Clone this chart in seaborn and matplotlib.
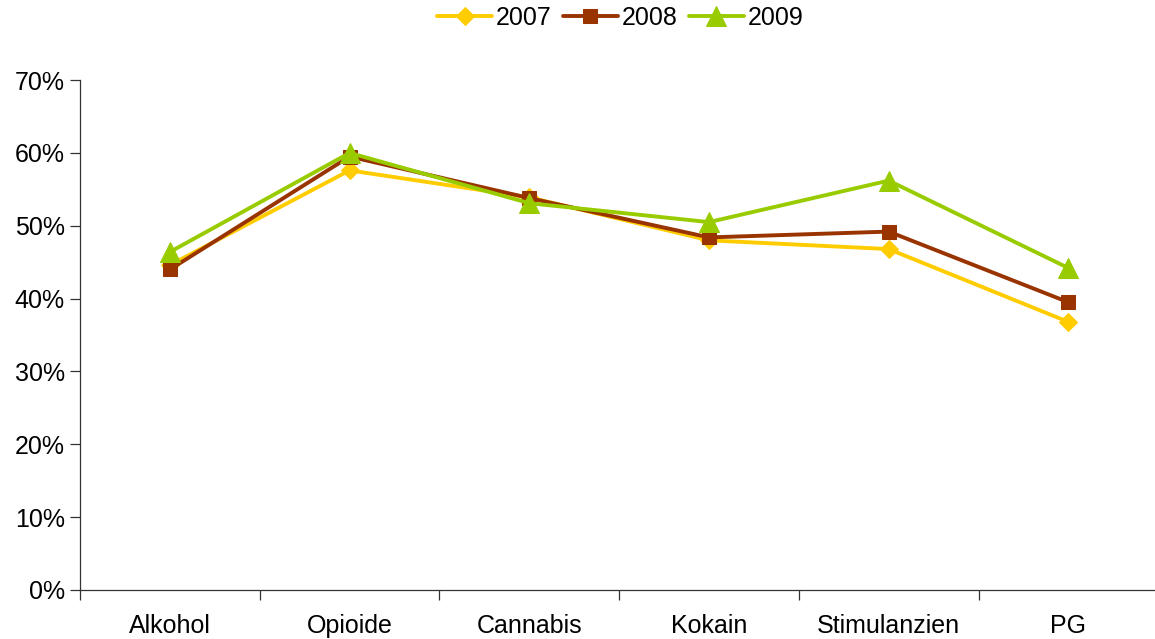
import matplotlib
matplotlib.use("Agg")
import matplotlib.pyplot as plt
from matplotlib.ticker import FixedLocator, PercentFormatter
import seaborn as sns
import pandas as pd

categories = ["Alkohol", "Opioide", "Cannabis", "Kokain", "Stimulanzien", "PG"]
years = ["2007", "2008", "2009"]
values_2007 = [44.6, 57.6, 53.9, 48.0, 46.8, 36.8]
values_2008 = [44.0, 59.5, 53.8, 48.4, 49.2, 39.5]
values_2009 = [46.4, 60.0, 53.1, 50.5, 56.2, 44.2]
y_ticks = [0, 10, 20, 30, 40, 50, 60, 70]

colors = {"2007": "#FFCC00", "2008": "#993300", "2009": "#99CC00"}
markers = {"2007": "D", "2008": "s", "2009": "^"}
sizes = {"2007": 9.5, "2008": 10.5, "2009": 14}

sns.set_style("white")
plt.rcParams["font.family"] = ["Liberation Sans", "DejaVu Sans"]
plt.rcParams["text.color"] = "black"

rows = []
for year, vals in zip(years, [values_2007, values_2008, values_2009]):
    for i, (cat, v) in enumerate(zip(categories, vals)):
        rows.append({"pos": i, "category": cat, "year": year, "value": v})
df = pd.DataFrame(rows)

fig = plt.figure(figsize=(11.55, 6.39), dpi=100)
ax = fig.add_axes([0.0693, 0.0767, 0.9335, 0.798])

for year in years:
    sub = df[df["year"] == year]
    sns.lineplot(data=sub, x="pos", y="value", ax=ax, color=colors[year],
                 marker=markers[year], markersize=sizes[year],
                 markeredgecolor=colors[year], linewidth=2.8,
                 label=year, legend=False)

ax.set_xlim(-0.5, len(categories) - 0.5)
ax.set_ylim(0, 70)
ax.yaxis.set_major_locator(FixedLocator(y_ticks))
ax.yaxis.set_major_formatter(PercentFormatter(decimals=0))
ax.set_xticks(range(len(categories)))
ax.set_xticklabels(categories)
ax.xaxis.set_minor_locator(FixedLocator([i - 0.5 for i in range(len(categories))]))
ax.tick_params(axis="x", which="major", length=0, pad=17, labelsize=18,
               labelcolor="black")
ax.tick_params(axis="x", which="minor", length=7, width=0.9, color="#333333",
               direction="out", bottom=True)
ax.tick_params(axis="y", which="major", length=7, width=0.9, color="#333333",
               direction="out", left=True, labelsize=18, pad=4,
               labelcolor="black")
ax.set_xlabel("")
ax.set_ylabel("")

for side in ["top", "right"]:
    ax.spines[side].set_visible(False)
for side in ["left", "bottom"]:
    ax.spines[side].set_color("#333333")
    ax.spines[side].set_linewidth(0.9)

handles, labels = ax.get_legend_handles_labels()
fig.legend(handles, labels, loc="center", bbox_to_anchor=(0.537, 0.972),
           ncol=3, frameon=False, fontsize=18, handlelength=2.2,
           handletextpad=0.15, columnspacing=0.45)

fig.savefig("out.png", dpi=100, facecolor="white")
